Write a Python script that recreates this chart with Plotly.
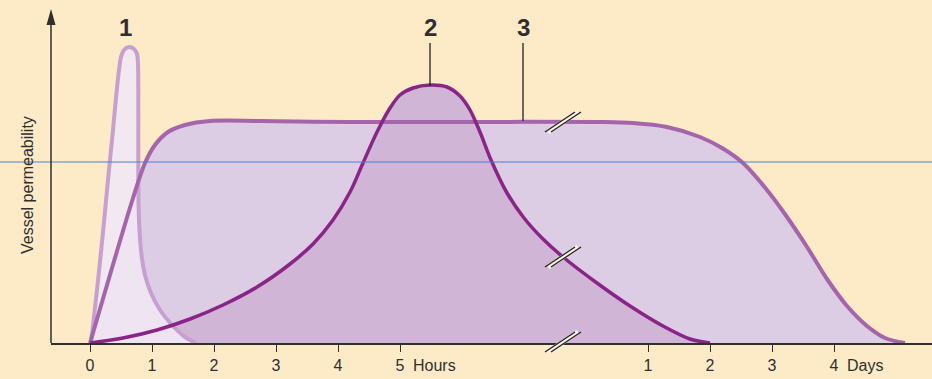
import plotly.graph_objects as go

# ---- data (x in axis position units: 0-5 = hours, 9-12 = days 1-4; y = relative permeability)
c1_x = [0.016, 0.113, 0.21, 0.29, 0.371, 0.419, 0.468, 0.5, 0.548, 0.629, 0.71, 0.758, 0.774, 0.779, 0.779, 0.782, 0.798, 0.831, 0.887, 0.984, 1.129, 1.323, 1.532, 1.71]
c1_y = [0, 0.53, 1.11, 1.63, 2.13, 2.45, 2.73, 2.86, 2.93, 2.96, 2.94, 2.89, 2.79, 2.53, 1.93, 1.43, 1.13, 0.88, 0.68, 0.50, 0.33, 0.18, 0.06, 0]

c3_x = [0, 0.355, 0.694, 0.887, 1.048, 1.258, 1.532, 1.935, 2.742, 4.19, 6.0, 8.226, 8.758, 9.306, 9.839, 10.194, 10.532, 10.919, 11.242, 11.565, 11.887, 12.21, 12.532, 12.823, 13.145]
c3_y = [0, 0.75, 1.45, 1.80, 1.98, 2.11, 2.18, 2.22, 2.22, 2.21, 2.21, 2.21, 2.20, 2.16, 2.06, 1.95, 1.80, 1.53, 1.26, 0.96, 0.64, 0.37, 0.17, 0.05, 0]

c2_x = [0, 0.532, 1.081, 1.613, 2.145, 2.694, 3.226, 3.597, 3.919, 4.194, 4.403, 4.629, 4.839, 5.0, 5.21, 5.484, 5.758, 5.968, 6.129, 6.29, 6.468, 6.726, 7.0, 7.29, 7.629, 8.177, 8.71, 9.242, 9.677, 10.0]
c2_y = [0, 0.05, 0.13, 0.24, 0.38, 0.56, 0.79, 0.99, 1.23, 1.51, 1.80, 2.11, 2.35, 2.48, 2.55, 2.58, 2.56, 2.47, 2.33, 2.11, 1.83, 1.50, 1.25, 1.05, 0.86, 0.60, 0.37, 0.17, 0.04, 0]

tick_vals = [0, 1, 2, 3, 4, 5, 9, 10, 11, 12]
tick_text = ["0", "1", "2", "3", "4", "5", "1", "2", "3", "4"]
curve_labels = ["1", "2", "3"]
y_title = "Vessel permeability"

# ---- geometry helpers (pixel -> paper)
W, H = 932, 379
ML, MR, MT, MB = 51, 0, 0, 36
PW, PH = W - ML - MR, H - MT - MB
X0PX, XUNIT = 90, 62.0
YUNIT = 100.0
x_range = [(ML - X0PX) / XUNIT, (W - MR - X0PX) / XUNIT]
y_range = [0, PH / YUNIT]

def xp(px):
    return (px - ML) / PW

def yp(py):
    return (H - MB - py) / PH

def v2py(v):
    return H - MB - v * YUNIT

BG = "#FDEBC8"
TXT = "#2f2f2f"
FONT = "Liberation Sans, Arial, sans-serif"

fig = go.Figure()

SM = 0.9
# fills
fig.add_trace(go.Scatter(x=c3_x, y=c3_y, mode="lines", line=dict(width=0, shape="spline", smoothing=SM),
                         fill="tozeroy", fillcolor="rgba(221,205,228,1)", hoverinfo="skip", showlegend=False))
fig.add_trace(go.Scatter(x=c2_x, y=c2_y, mode="lines", line=dict(width=0, shape="spline", smoothing=SM),
                         fill="tozeroy", fillcolor="rgba(208,181,215,1)", hoverinfo="skip", showlegend=False))
fig.add_trace(go.Scatter(x=c1_x, y=c1_y, mode="lines", line=dict(width=0, shape="spline", smoothing=SM),
                         fill="tozeroy", fillcolor="rgba(240,231,243,0.92)", hoverinfo="skip", showlegend=False))
# lines
fig.add_trace(go.Scatter(x=c1_x, y=c1_y, mode="lines", line=dict(width=4, color="#C7A0CF", shape="spline", smoothing=SM),
                         hoverinfo="skip", showlegend=False))
fig.add_trace(go.Scatter(x=c3_x, y=c3_y, mode="lines", line=dict(width=4, color="#A565AA", shape="spline", smoothing=SM),
                         hoverinfo="skip", showlegend=False))
fig.add_trace(go.Scatter(x=c2_x, y=c2_y, mode="lines", line=dict(width=3.5, color="#8A2588", shape="spline", smoothing=SM),
                         hoverinfo="skip", showlegend=False))

shapes = []
# blue horizontal line
shapes.append(dict(type="line", xref="paper", yref="paper", x0=xp(0), x1=xp(W), y0=yp(162), y1=yp(162),
                   line=dict(color="#4F7FD6", width=1), layer="above"))
# y axis with arrow
axx = 51
shapes.append(dict(type="line", xref="paper", yref="paper", x0=xp(axx), x1=xp(axx), y0=yp(343), y1=yp(22),
                   line=dict(color=TXT, width=1.5), layer="above"))
shapes.append(dict(type="path", xref="paper", yref="paper",
                   path=f"M {xp(axx)},{yp(9)} L {xp(axx-4.5)},{yp(25)} L {xp(axx+4.5)},{yp(25)} Z",
                   fillcolor=TXT, line=dict(width=0), layer="above"))

# break marks at the axis gap
brk_px = 563
c2_at_brk = 0.86
for cy in [v2py(2.21), v2py(c2_at_brk), v2py(0) - 1]:
    x0, y0, x1, y1 = brk_px - 15, cy + 10, brk_px + 15, cy - 10
    shapes.append(dict(type="line", xref="paper", yref="paper", x0=xp(x0), x1=xp(x1), y0=yp(y0), y1=yp(y1),
                       line=dict(color="#FBF3E6", width=5), layer="above"))
    for off in (-3, 3):
        shapes.append(dict(type="line", xref="paper", yref="paper", x0=xp(x0 + off), x1=xp(x1 + off),
                           y0=yp(y0), y1=yp(y1), line=dict(color="#222", width=1.3), layer="above"))

# leader lines for labels 2 and 3
shapes.append(dict(type="line", xref="paper", yref="paper", x0=xp(430), x1=xp(430), y0=yp(43), y1=yp(86),
                   line=dict(color="#222", width=1.3), layer="above"))
shapes.append(dict(type="line", xref="paper", yref="paper", x0=xp(523), x1=xp(523), y0=yp(43), y1=yp(121),
                   line=dict(color="#222", width=1.3), layer="above"))

annotations = []
for lab, px in zip(curve_labels, [125, 430, 523]):
    annotations.append(dict(text=lab, xref="paper", yref="paper", x=xp(px), y=yp(28), showarrow=False,
                            xanchor="center", yanchor="middle",
                            font=dict(family=FONT, size=24, color=TXT, weight="bold")))
annotations.append(dict(text="Hours", xref="paper", yref="paper", x=xp(411), y=yp(365), showarrow=False,
                        xanchor="left", yanchor="middle", font=dict(family=FONT, size=16, color=TXT)))
annotations.append(dict(text="Days", xref="paper", yref="paper", x=xp(845), y=yp(365), showarrow=False,
                        xanchor="left", yanchor="middle", font=dict(family=FONT, size=16, color=TXT)))
annotations.append(dict(text=y_title, xref="paper", yref="paper", x=xp(27), y=yp(185), showarrow=False,
                        textangle=-90, xanchor="center", yanchor="middle",
                        font=dict(family=FONT, size=16, color=TXT)))

fig.update_layout(
    width=W, height=H,
    margin=dict(l=ML, r=MR, t=MT, b=MB),
    paper_bgcolor=BG, plot_bgcolor=BG,
    shapes=shapes, annotations=annotations,
    xaxis=dict(range=x_range, tickvals=tick_vals, ticktext=tick_text, ticks="outside", ticklen=7,
               tickcolor=TXT, tickwidth=1.2, showline=True, linecolor=TXT, linewidth=1.5,
               showgrid=False, zeroline=False, fixedrange=True,
               tickfont=dict(family=FONT, size=16, color=TXT)),
    yaxis=dict(range=y_range, showticklabels=False, showgrid=False, zeroline=False, showline=False,
               ticks="", fixedrange=True),
    showlegend=False,
)

fig.write_html("out.html", config={"displayModeBar": False},
               post_script="document.body.style.margin='0';document.body.style.padding='0';document.body.style.overflow='hidden';")
